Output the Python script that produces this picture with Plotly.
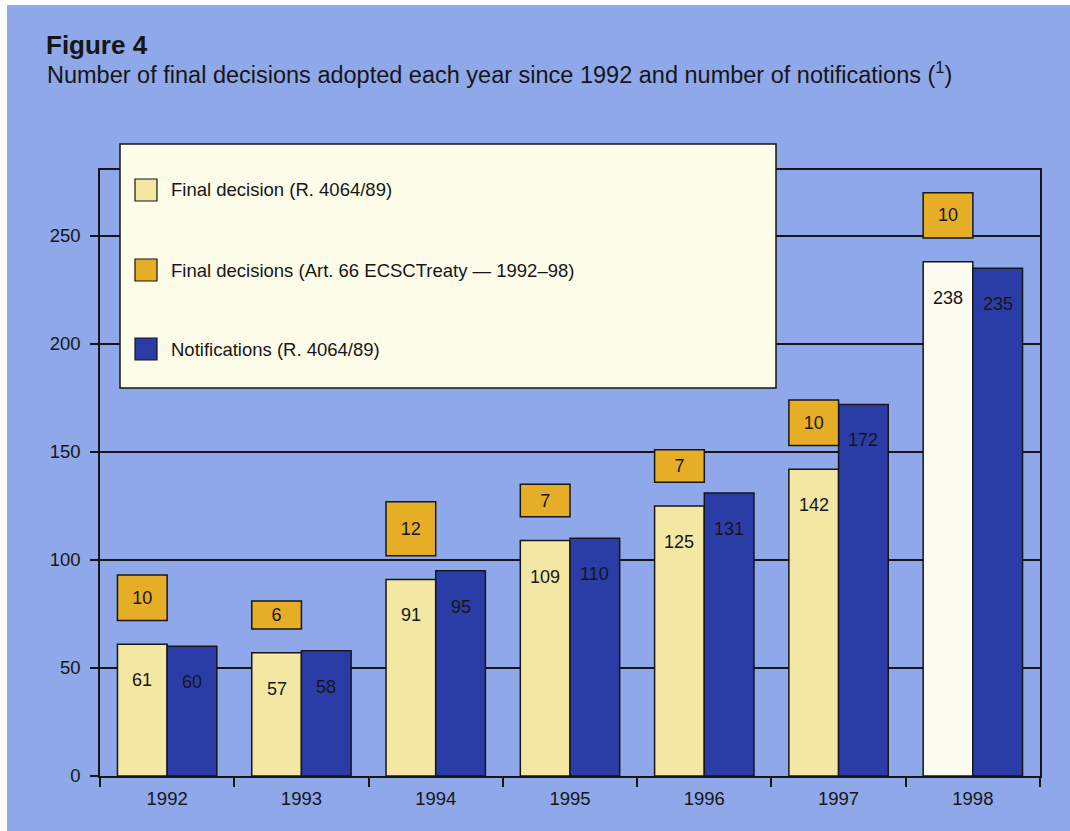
import plotly.graph_objects as go

# ---- data -------------------------------------------------------------
years = ["1992", "1993", "1994", "1995", "1996", "1997", "1998"]
final_decisions = [61, 57, 91, 109, 125, 142, 238]        # R. 4064/89
ecsc_decisions = [10, 6, 12, 7, 7, 10, 10]                # Art. 66 ECSC Treaty
notifications = [60, 58, 95, 110, 131, 172, 235]          # R. 4064/89
y_ticks = [0, 50, 100, 150, 200, 250]

legend_labels = [
    "Final decision (R. 4064/89)",
    "Final decisions (Art. 66 ECSCTreaty \u2014 1992\u201398)",
    "Notifications (R. 4064/89)",
]

# ---- styling ----------------------------------------------------------
W, H = 1070, 831
M_L, M_R, M_T, M_B = 100, 30, 170, 55
PW, PH = W - M_L - M_R, H - M_T - M_B

BG = "#8ea8ea"
YELLOW = "#f4e7a3"
PALE = "#fbfbef"
ORANGE = "#e6ae26"
BLUE = "#2a3da6"
CREAM = "#fcfce9"
INK = "#161616"
FONT = "Liberation Sans, Arial, Helvetica, sans-serif"

BOX_GAP = 11      # axis units between a yellow bar and its ECSC box
BOX_SCALE = 2     # axis units per ECSC decision for the box height
BOX_PAD = 1       # extra axis units so the smallest box still holds its label


def px_x(p):
    return (p - M_L) / PW


def px_y(p):
    return (H - M_B - p) / PH


yellow_colors = [YELLOW] * (len(years) - 1) + [PALE]
outline = dict(color=INK, width=1.5)
label_font = dict(size=18, color=INK, family=FONT)

fig = go.Figure()
fig.add_trace(go.Bar(
    x=years, y=final_decisions, offsetgroup="a",
    marker=dict(color=yellow_colors, line=outline),
    hoverinfo="skip",
))
fig.add_trace(go.Bar(
    x=years, y=notifications, offsetgroup="b",
    marker=dict(color=BLUE, line=outline),
    hoverinfo="skip",
))
fig.add_trace(go.Bar(
    x=years,
    y=[v * BOX_SCALE + BOX_PAD for v in ecsc_decisions],
    base=[f + BOX_GAP for f in final_decisions],
    offsetgroup="a",
    marker=dict(color=ORANGE, line=outline),
    text=[str(v) for v in ecsc_decisions],
    textposition="inside", insidetextanchor="middle", textangle=0,
    textfont=label_font,
    constraintext="none",
    hoverinfo="skip",
))

annotations = []
half = 0.74 * PW / len(years) / 4
for i, (f, n) in enumerate(zip(final_decisions, notifications)):
    annotations.append(dict(x=i, y=f, xshift=-half, yshift=-36, text=str(f),
                            showarrow=False, font=label_font))
    annotations.append(dict(x=i, y=n, xshift=half, yshift=-36, text=str(n),
                            showarrow=False, font=label_font))

# titles
annotations.append(dict(xref="paper", yref="paper", x=px_x(44), y=px_y(45),
                        xanchor="left", yanchor="middle", showarrow=False,
                        text="<b>Figure 4</b>",
                        font=dict(size=26, color=INK, family=FONT)))
annotations.append(dict(xref="paper", yref="paper", x=px_x(45), y=px_y(73),
                        xanchor="left", yanchor="middle", showarrow=False,
                        text="Number of final decisions adopted each year since 1992 "
                             "and number of notifications (<sup>1</sup>)",
                        font=dict(size=23.5, color=INK, family=FONT)))

shapes = [
    # thin white page margin at top and left
    dict(type="rect", xref="paper", yref="paper", layer="below",
         x0=px_x(-5), x1=px_x(W + 5), y0=px_y(5), y1=px_y(-5),
         fillcolor="white", line=dict(width=0)),
    dict(type="rect", xref="paper", yref="paper", layer="below",
         x0=px_x(-5), x1=px_x(7), y0=px_y(H + 5), y1=px_y(-5),
         fillcolor="white", line=dict(width=0)),
    # legend box
    dict(type="rect", xref="paper", yref="paper", layer="above",
         x0=px_x(120), x1=px_x(776), y0=px_y(388), y1=px_y(144),
         fillcolor=CREAM, line=dict(color=INK, width=1.5)),
]

legend_colors = [YELLOW, ORANGE, BLUE]
legend_rows = [190, 270, 349]
for label, col, cy in zip(legend_labels, legend_colors, legend_rows):
    shapes.append(dict(type="rect", xref="paper", yref="paper", layer="above",
                       x0=px_x(135), x1=px_x(157), y0=px_y(cy + 11), y1=px_y(cy - 11),
                       fillcolor=col, line=dict(color=INK, width=1.2)))
    annotations.append(dict(xref="paper", yref="paper", x=px_x(169), y=px_y(cy),
                            xanchor="left", yanchor="middle", showarrow=False,
                            text=label, font=dict(size=18.5, color=INK, family=FONT)))

fig.update_layout(
    width=W, height=H,
    margin=dict(l=M_L, r=M_R, t=M_T, b=M_B),
    paper_bgcolor=BG, plot_bgcolor=BG,
    barmode="group", bargap=0.26, bargroupgap=0,
    showlegend=False,
    font=dict(family=FONT, color=INK, size=18),
    shapes=shapes, annotations=annotations,
)
fig.update_xaxes(
    type="category", tickson="boundaries", ticks="outside", ticklen=9,
    tickwidth=1.5, tickcolor=INK, showline=True, linecolor=INK, linewidth=1.6,
    mirror=True, showgrid=False, tickfont=dict(size=18.5, color=INK),
    ticklabelstandoff=5,
    range=[-0.5, len(years) - 0.5],
)
fig.update_yaxes(
    range=[0, 280.5], tickvals=y_ticks, ticks="outside", ticklen=8,
    tickwidth=1.5, tickcolor=INK, showline=True, linecolor=INK, linewidth=1.6,
    mirror=True, showgrid=True, gridcolor=INK, gridwidth=1.6, zeroline=False,
    ticklabelstandoff=6, tickfont=dict(size=18.5, color=INK),
)

fig.write_html("out.html")
